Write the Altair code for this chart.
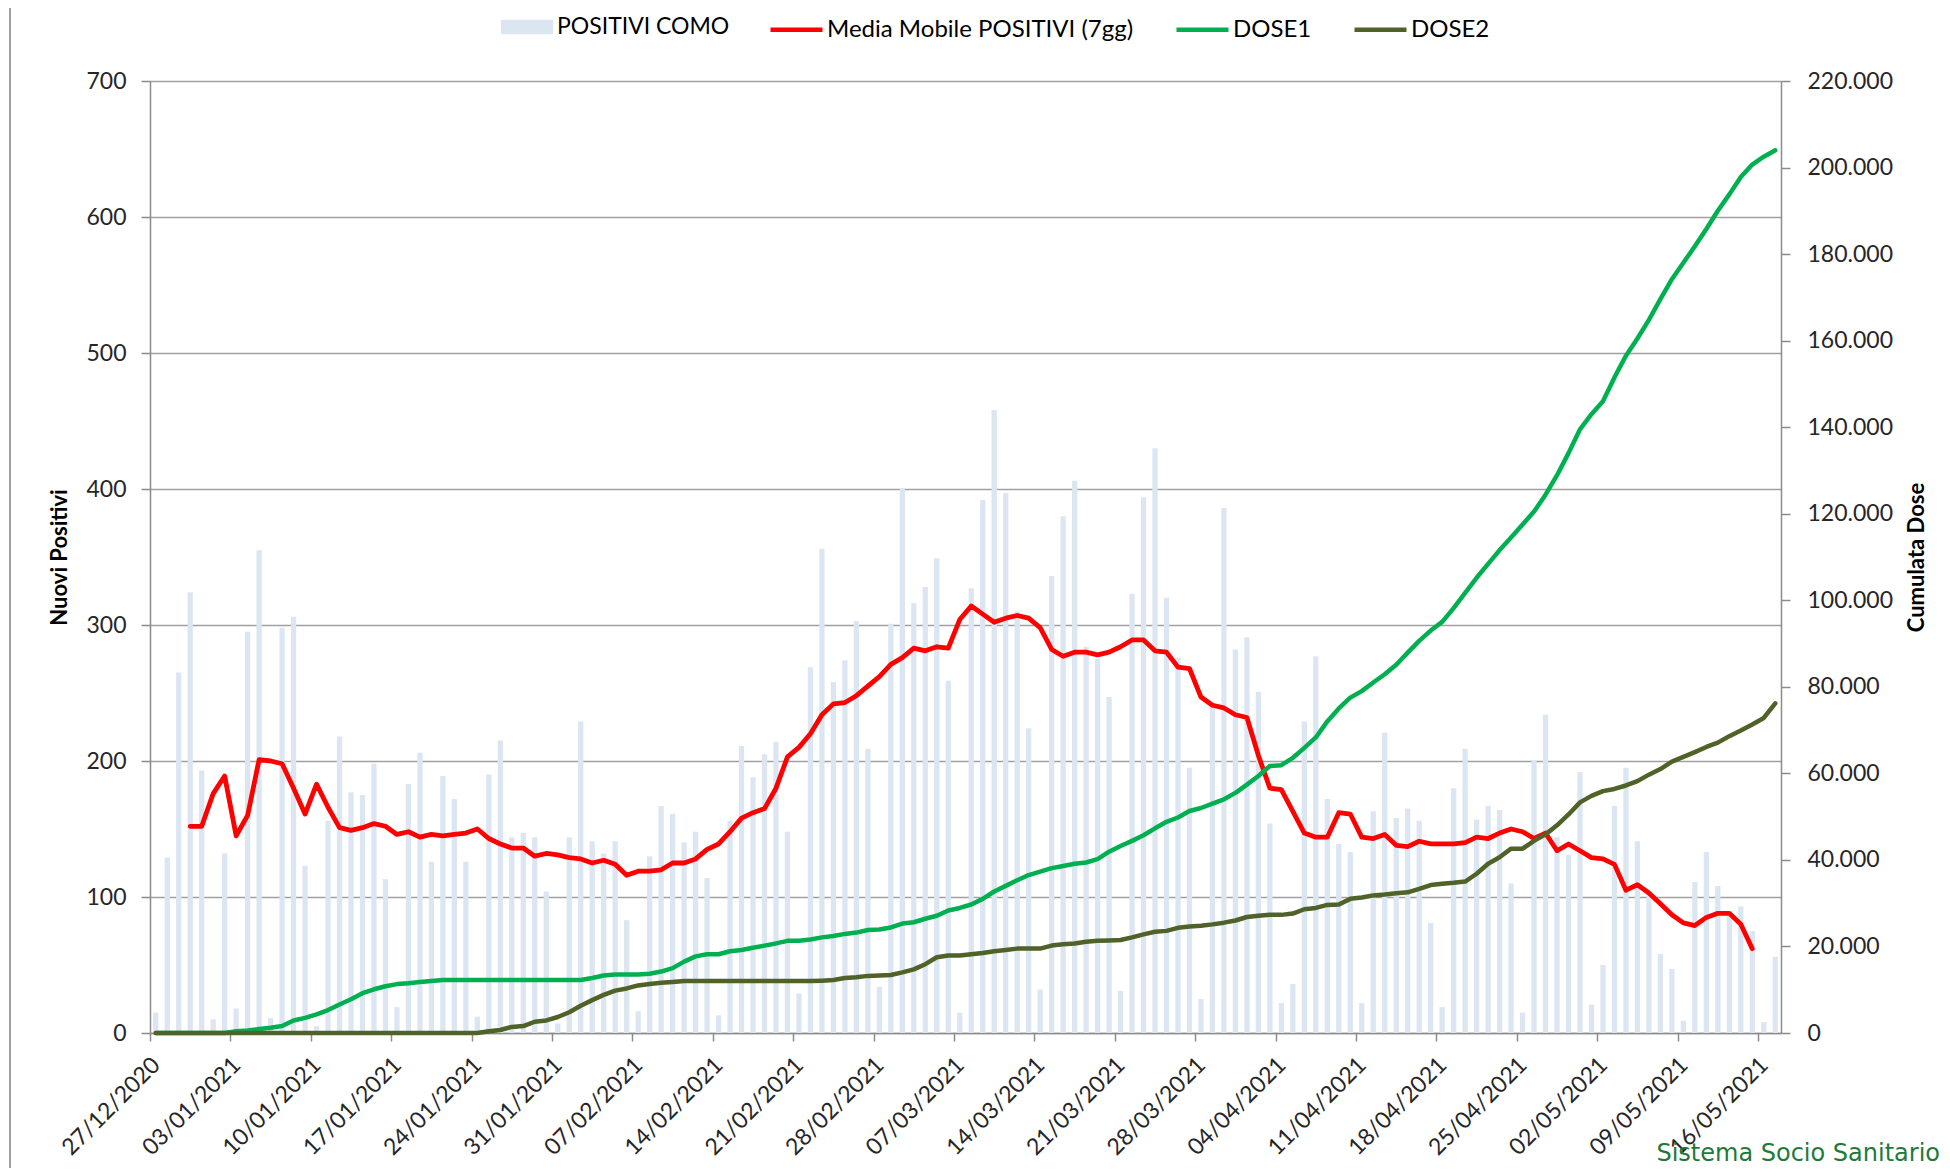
import altair as alt
import pandas as pd

tick_labels = ["27/12/2020", "03/01/2021", "10/01/2021", "17/01/2021", "24/01/2021",
               "31/01/2021", "07/02/2021", "14/02/2021", "21/02/2021", "28/02/2021",
               "07/03/2021", "14/03/2021", "21/03/2021", "28/03/2021", "04/04/2021",
               "11/04/2021", "18/04/2021", "25/04/2021", "02/05/2021", "09/05/2021",
               "16/05/2021"]

# daily new positives, one per day starting 27/12/2020
positivi = [15, 129, 265, 324, 193, 10, 132, 18, 295, 355,
            11, 298, 306, 123, 5, 156, 218, 177, 175, 198,
            113, 19, 183, 206, 126, 189, 172, 126, 12, 190,
            215, 144, 147, 144, 104, 7, 144, 229, 141, 132,
            141, 83, 16, 130, 167, 161, 140, 148, 114, 13,
            156, 211, 188, 205, 214, 148, 29, 269, 356, 258,
            274, 303, 209, 34, 301, 400, 316, 328, 349, 259,
            15, 327, 392, 458, 397, 310, 224, 32, 336, 380,
            406, 284, 275, 247, 31, 323, 394, 430, 320, 276,
            195, 25, 240, 386, 282, 291, 251, 154, 22, 36,
            229, 277, 172, 139, 133, 22, 163, 221, 158, 165,
            156, 81, 19, 180, 209, 157, 167, 164, 110, 15,
            200, 234, 144, 131, 192, 21, 50, 167, 195, 141,
            103, 58, 47, 9, 111, 133, 108, 88, 93, 75,
            8, 56]

# 7-day moving average, starting on day index 3 (30/12/2020)
media_start = 3
media_mobile = [152, 152, 176, 189, 145, 160, 201, 200, 198, 180,
                161, 183, 166, 151, 149, 151, 154, 152, 146, 148,
                144, 146, 145, 146, 147, 150, 143, 139, 136, 136,
                130, 132, 131, 129, 128, 125, 127, 124, 116, 119,
                119, 120, 125, 125, 128, 135, 139, 148, 158, 162,
                165, 180, 203, 210, 220, 234, 242, 243, 248, 255,
                262, 271, 276, 283, 281, 284, 283, 304, 314, 308,
                302, 305, 307, 305, 298, 282, 277, 280, 280, 278,
                280, 284, 289, 289, 281, 280, 269, 268, 247, 241,
                239, 234, 232, 204, 180, 179, 163, 147, 144, 144,
                162, 161, 144, 143, 146, 138, 137, 141, 139, 139,
                139, 140, 144, 143, 147, 150, 148, 143, 147, 134,
                139, 134, 129, 128, 124, 105, 109, 103, 95, 87,
                81, 79, 85, 88, 88, 80, 62]

# cumulative doses (right axis)
dose1 = [0, 0, 0, 0, 0, 0, 0, 400, 600, 900,
         1200, 1600, 2900, 3500, 4300, 5300, 6600, 7800, 9200, 10100,
         10800, 11300, 11500, 11800, 12000, 12250, 12250, 12250, 12250, 12250,
         12250, 12250, 12250, 12250, 12250, 12250, 12250, 12250, 12700, 13300,
         13500, 13500, 13500, 13700, 14200, 15000, 16500, 17700, 18200, 18200,
         18900, 19200, 19700, 20200, 20700, 21300, 21300, 21600, 22100, 22400,
         22900, 23200, 23800, 23900, 24400, 25300, 25600, 26400, 27100, 28300,
         28900, 29700, 31000, 32700, 34000, 35300, 36500, 37300, 38100, 38600,
         39100, 39400, 40200, 41900, 43200, 44400, 45700, 47300, 48800, 49800,
         51300, 52000, 53000, 54000, 55500, 57400, 59400, 61700, 61900, 63600,
         65900, 68300, 72000, 75000, 77500, 79000, 81000, 82900, 85100, 87900,
         90600, 93000, 95000, 98200, 101700, 105200, 108400, 111600, 114500, 117500,
         120500, 124400, 128900, 134000, 139500, 143000, 146000, 151500, 156500, 160500,
         164800, 169600, 174200, 178000, 181800, 185800, 190000, 193800, 197800, 200700,
         202500, 204000]

dose2 = [0, 0, 0, 0, 0, 0, 0, 0, 0, 0,
         0, 0, 0, 0, 0, 0, 0, 0, 0, 0,
         0, 0, 0, 0, 0, 0, 0, 0, 0, 400,
         700, 1400, 1600, 2600, 2900, 3700, 4800, 6300, 7600, 8800,
         9800, 10300, 11000, 11300, 11600, 11800, 12000, 12000, 12000, 12000,
         12000, 12000, 12000, 12000, 12000, 12000, 12000, 12000, 12100, 12250,
         12700, 12900, 13200, 13300, 13400, 14000, 14700, 15900, 17500, 17900,
         17900, 18200, 18500, 18900, 19200, 19500, 19500, 19500, 20200, 20500,
         20700, 21100, 21300, 21400, 21500, 22100, 22800, 23400, 23600, 24300,
         24600, 24800, 25100, 25500, 26000, 26800, 27100, 27300, 27300, 27600,
         28600, 28900, 29600, 29700, 31000, 31300, 31800, 32000, 32300, 32500,
         33300, 34200, 34500, 34700, 35000, 36800, 39100, 40600, 42600, 42600,
         44400, 45900, 48000, 50500, 53300, 54800, 55900, 56400, 57200, 58200,
         59700, 61000, 62700, 63800, 64900, 66100, 67100, 68600, 69900, 71300,
         72800, 76200]

bar_series = ["POSITIVI COMO"]
bar_colors = ["#DCE6F2"]
line_series = ["Media Mobile POSITIVI (7gg)", "DOSE1", "DOSE2"]
line_colors = ["#FF0000", "#00B050", "#4F6228"]
left_ticks = list(range(0, 701, 100))
right_ticks = list(range(0, 220001, 20000))
footer = ["Sistema Socio Sanitario"]

n_days = len(positivi)
bars_df = pd.DataFrame({"giorno": list(range(n_days)), "valore": positivi,
                        "serie": bar_series[0]})
ma_df = pd.DataFrame({"giorno": list(range(media_start, media_start + len(media_mobile))),
                      "valore": media_mobile, "serie": line_series[0]})
dose_df = pd.concat([
    pd.DataFrame({"giorno": list(range(len(dose1))), "dose": dose1, "serie": line_series[1]}),
    pd.DataFrame({"giorno": list(range(len(dose2))), "dose": dose2, "serie": line_series[2]}),
])
foot_df = pd.DataFrame({"t": footer})

FONT = "Lato"
AX_GRAY = "#8C8C8C"
tick_step = 7
label_js = "[" + ",".join("'" + t + "'" for t in tick_labels) + "]"

x_scale = alt.Scale(domain=[0, n_days], nice=False, zero=False)
x_axis = alt.Axis(values=list(range(0, n_days, tick_step)),
                  labelExpr=label_js + "[round(datum.value/" + str(tick_step) + ")]",
                  title=None, labelAngle=315, labelAlign="right", labelBaseline="middle",
                  labelFont=FONT, labelFontSize=23, labelColor="#262626",
                  labelPadding=20, labelOffset=6, tickSize=8, tickColor=AX_GRAY,
                  domainColor=AX_GRAY, domainWidth=1.5, tickWidth=1.5, grid=False,
                  labelOverlap=False, labelFlush=False, labelBound=False)

fill_legend = alt.Legend(
    title=None, orient="none", direction="horizontal", legendX=351, legendY=-80,
    labelFont=FONT, labelFontSize=23, labelColor="#000000", labelOffset=4,
    labelLimit=0, symbolSize=2704, symbolType="M-1,-0.28H1V0.28H-1Z",
    symbolStrokeWidth=0, symbolOpacity=1,
)
stroke_legend = alt.Legend(
    title=None, orient="none", direction="horizontal", legendX=618, legendY=-80,
    labelFont=FONT, labelFontSize=24, labelColor="#000000", labelOffset=2,
    labelLimit=0, columnPadding=33, symbolSize=2704, symbolStrokeWidth=4.5,
    symbolType="stroke", symbolOpacity=1,
)
fill_enc = alt.Fill("serie:N", scale=alt.Scale(domain=bar_series, range=bar_colors),
                    legend=fill_legend)
stroke_enc = alt.Stroke("serie:N", scale=alt.Scale(domain=line_series, range=line_colors),
                        legend=stroke_legend, sort=line_series)

y_left_scale = alt.Scale(domain=[0, 700], nice=False, zero=True)
y_left_axis = alt.Axis(values=left_ticks, title="Nuovi Positivi", grid=True,
                       gridColor="#A0A0A0", gridWidth=1.3, labelFont=FONT, labelFontSize=23,
                       labelColor="#262626", labelPadding=15, tickSize=9, tickColor=AX_GRAY,
                       tickWidth=1.5, domainColor=AX_GRAY, domainWidth=1.5,
                       titleFont=FONT, titleFontSize=22, titleFontWeight="bold",
                       titleColor="#000000", titlePadding=14)

bars = alt.Chart(bars_df).transform_calculate(
    x0="datum.giorno + 0.27", x1="datum.giorno + 0.73"
).mark_bar(opacity=1).encode(
    x=alt.X("x0:Q", scale=x_scale, axis=x_axis),
    x2="x1:Q",
    y=alt.Y("valore:Q", scale=y_left_scale, axis=y_left_axis),
    y2=alt.datum(0),
    fill=fill_enc,
)

ma_line = alt.Chart(ma_df).transform_calculate(
    xc="datum.giorno + 0.5"
).mark_line(strokeWidth=4.8, strokeJoin="round", strokeCap="round").encode(
    x=alt.X("xc:Q", scale=x_scale, axis=x_axis),
    y=alt.Y("valore:Q", scale=y_left_scale, axis=y_left_axis),
    stroke=stroke_enc,
)

left = alt.layer(bars, ma_line)

dose_lines = alt.Chart(dose_df).transform_calculate(
    xc="datum.giorno + 0.5"
).mark_line(strokeWidth=4.5, strokeJoin="round", strokeCap="round").encode(
    x=alt.X("xc:Q", scale=x_scale, axis=x_axis),
    y=alt.Y("dose:Q", scale=alt.Scale(domain=[0, 220000], nice=False, zero=True),
            axis=alt.Axis(orient="right", values=right_ticks, grid=False,
                          labelExpr="datum.value == 0 ? '0' : format(datum.value/1000, 'd') + '.000'",
                          title="Cumulata Dose", titleAngle=270, titleBaseline="top",
                          labelFont=FONT, labelFontSize=23, labelColor="#262626",
                          labelPadding=17, tickSize=9, tickColor=AX_GRAY, tickWidth=1.5,
                          domainColor=AX_GRAY, domainWidth=1.5, titleFont=FONT,
                          titleFontSize=22, titleFontWeight="bold", titleColor="#000000",
                          titlePadding=14)),
    stroke=stroke_enc,
    detail="serie:N",
)

footer_text = alt.Chart(foot_df).mark_text(
    font="DejaVu Sans", fontSize=24, color="#1F7A3A", align="right", baseline="bottom"
).encode(text="t:N", x=alt.value(1790), y=alt.value(1085))

frame_line = alt.Chart(foot_df).mark_rule(color="#A0A0A0", strokeWidth=2).encode(
    x=alt.value(-140), y=alt.value(-73), y2=alt.value(1087)
)

chart = alt.layer(left, dose_lines, footer_text, frame_line).resolve_scale(
    y="independent"
).properties(
    width=1631, height=952,
    autosize=alt.AutoSizeParams(type="none"),
    padding={"left": 142, "top": 73, "right": 161, "bottom": 135},
).configure_view(stroke=None).configure(background="white")

chart.save("out.html", embed_options={"renderer": "svg", "actions": False})
